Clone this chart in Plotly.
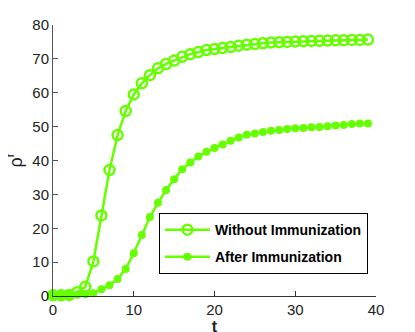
import plotly.graph_objects as go

# time steps
t = list(range(40))

# rho^r without immunization
without_imm = [0.2, 0.2, 0.3, 1.1, 2.7, 10.2, 23.8, 37.2, 47.5, 54.6,
               59.5, 62.8, 65.2, 67.2, 68.5, 69.5, 70.6, 71.4, 72.0, 72.6,
               72.9, 73.2, 73.5, 73.9, 74.2, 74.4, 74.6, 74.8, 74.9, 75.0,
               75.1, 75.2, 75.3, 75.35, 75.4, 75.5, 75.5, 75.6, 75.6, 75.7]

# rho^r after immunization
after_imm = [0.2, 0.2, 0.3, 0.4, 0.5, 0.8, 2.0, 3.2, 5.0, 8.0,
             12.6, 18.0, 23.3, 27.5, 31.3, 34.5, 37.4, 39.4, 41.2, 42.6,
             43.7, 44.7, 45.8, 46.8, 47.6, 48.0, 48.4, 48.8, 49.0, 49.3,
             49.5, 49.6, 49.8, 49.9, 50.1, 50.3, 50.5, 50.8, 50.9, 50.9]

legend_names = ["<b>Without Immunization</b>", "<b>After Immunization</b>"]

green = "#66ff00"

fig = go.Figure()
fig.add_trace(go.Scatter(
    x=t, y=without_imm, mode="lines+markers", name=legend_names[0],
    legendgroup="a",
    line=dict(color=green, width=2.5),
    marker=dict(symbol="circle-open", size=10, color=green, line=dict(width=2.5)),
    cliponaxis=False,
))
fig.add_trace(go.Scatter(
    x=t, y=after_imm, mode="lines+markers", name=legend_names[1],
    legendgroup="b",
    line=dict(color=green, width=2.5),
    marker=dict(symbol="circle", size=8, color=green),
    cliponaxis=False,
))

axis_font = dict(family="Liberation Sans, Arial, sans-serif", size=15, color="#222")

# page body has an 8px margin, so the margins are shifted to land the axes
# where the reference has them
fig.update_layout(
    width=415, height=332,
    margin=dict(l=45, r=47, t=17, b=44),
    plot_bgcolor="white", paper_bgcolor="white",
    font=axis_font,
    showlegend=True,
    legend=dict(
        x=0.975, y=0.081, xanchor="right", yanchor="bottom",
        bordercolor="black", borderwidth=1, bgcolor="white",
        font=dict(family="Liberation Sans, Arial, sans-serif", size=14, color="black"),
        traceorder="grouped", tracegroupgap=6, itemwidth=45,
    ),
    xaxis=dict(
        range=[0, 40], tickvals=[0, 10, 20, 30, 40],
        showgrid=False, zeroline=False, automargin=False,
        showline=True, linecolor="#333", linewidth=1,
        ticks="inside", ticklen=5, tickcolor="#333",
        title=dict(text="<b>t</b>", standoff=0, font=dict(size=16)),
    ),
    yaxis=dict(
        range=[0, 80], tickvals=list(range(0, 81, 10)),
        showgrid=False, zeroline=False, automargin=False,
        showline=True, linecolor="#555", linewidth=1,
        ticks="inside", ticklen=5, tickcolor="#555",
    ),
)

# y label placed by hand, further left than the axis title would go
fig.add_annotation(
    text="ρ<sup>r</sup>", textangle=-90,
    xref="paper", yref="paper", x=-0.118, y=0.5,
    xanchor="center", yanchor="middle", showarrow=False,
    font=dict(size=18, color="#222"),
)

fig.write_html("out.html")
